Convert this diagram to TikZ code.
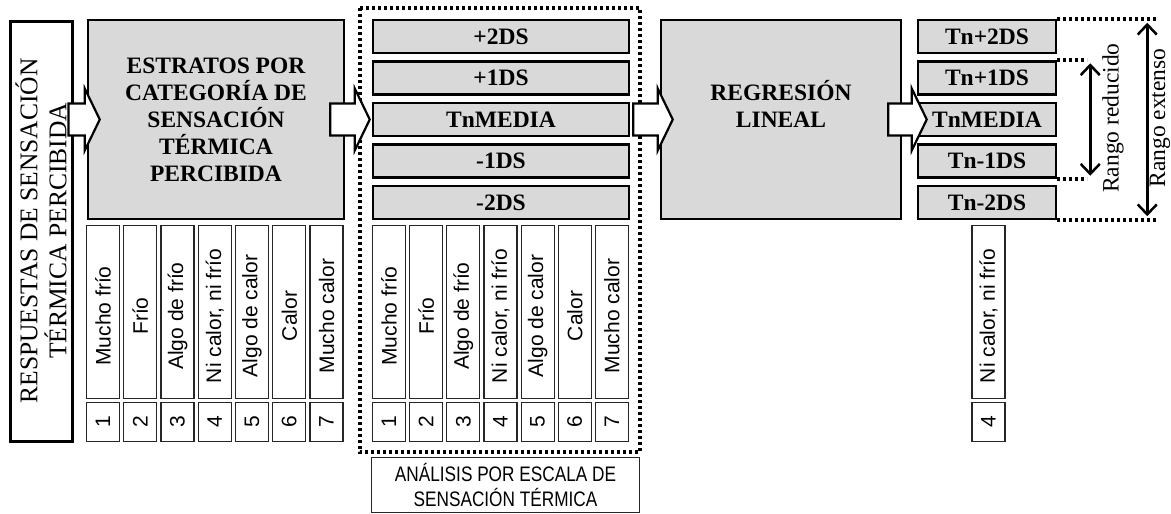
\documentclass[tikz,border=0pt]{standalone}
\usepackage{fontspec}
\setmainfont{Liberation Serif}
\setsansfont{Liberation Sans}
\newfontfamily\narrowsf[FakeStretch=0.82]{Liberation Sans}
\usepackage{xcolor}
\usepackage{tikz}
\usetikzlibrary{arrows.meta, positioning, calc}

\definecolor{boxgray}{RGB}{217,217,217}

% wide hollow arrow from a tail point to a tip point (same height)
\newcommand{\fatarrow}[2]{%
  \draw[fatarr] ($(#1)+(0,-16)$) -- ($(#2)+(-15,-16)$) -- ($(#2)+(-15,-31)$) -- (#2)
    -- ($(#2)+(-15,31)$) -- ($(#2)+(-15,16)$) -- ($(#1)+(0,16)$) -- cycle;}

\begin{document}
\begin{tikzpicture}[
    x=1pt, y=-1pt,
    >={Straight Barb[length=10pt,width=19pt]},
    mainbox/.style={draw, line width=2.5pt, fill=boxgray, align=center,
        font=\bfseries\fontsize{23.5}{27}\selectfont},
    respbox/.style={draw, line width=3pt, fill=white, rotate=90, align=center,
        minimum width=420pt, minimum height=62pt, font=\fontsize{25.5}{29}\selectfont},
    dsbox/.style={draw, line width=2.5pt, fill=boxgray, minimum height=33pt,
        font=\bfseries\fontsize{23.5}{27}\selectfont},
    catbox/.style={draw=black!85, line width=1.2pt, rotate=90, inner sep=1pt,
        minimum width=173pt, minimum height=33pt, font=\sffamily\fontsize{21}{24}\selectfont},
    numbox/.style={catbox, minimum width=39pt},
    notebox/.style={draw=black!85, line width=1.2pt, align=center, minimum width=268pt,
        minimum height=55pt, font=\narrowsf\fontsize{21}{25}\selectfont},
    fatarr/.style={draw, fill=white, line width=2.2pt},
    dotline/.style={line width=3.6pt, dash pattern=on 3pt off 3pt},
    rango/.style={rotate=90, font=\fontsize{23.5}{27}\selectfont}
]
\useasboundingbox (0,0) rectangle (1171,514);

% left block
\node[respbox] (resp) at (41,231) {RESPUESTAS DE SENSACIÓN\\TÉRMICA PERCIBIDA};

% strata
\node[mainbox, minimum width=256pt, minimum height=199pt] (estr) at (216,119.5)
    {ESTRATOS POR\\CATEGORÍA DE\\SENSACIÓN\\TÉRMICA\\PERCIBIDA};
\foreach \lbl [count=\i] in {Mucho frío, Frío, Algo de frío, {Ni calor, ni frío},
    Algo de calor, Calor, Mucho calor} {
  \node[catbox, execute at end node={\hspace{8pt}}] (catA\i) at ({103+37.25*(\i-1)},312) {\lbl};
  \node[numbox] (numA\i) at ({103+37.25*(\i-1)},422) {\i};
}

% scale analysis
\foreach \lbl [count=\i] in {+2DS, +1DS, TnMEDIA, -1DS, -2DS}
  \node[dsbox, minimum width=256pt] (ds\i) at (501,{36.5+41.5*(\i-1)}) {\lbl};
\foreach \lbl [count=\i] in {Mucho frío, Frío, Algo de frío, {Ni calor, ni frío},
    Algo de calor, Calor, Mucho calor} {
  \node[catbox, execute at end node={\hspace{8pt}}] (catB\i) at ({389+37.15*(\i-1)},312) {\lbl};
  \node[numbox] (numB\i) at ({389+37.15*(\i-1)},422) {\i};
}
\draw[dotline] ($(ds1.north west)+(-12,-11)$) rectangle ($(numB7.west -| ds1.east)+(10,10)$);
\node[notebox] (note) at (505.5,485) {ANÁLISIS POR ESCALA DE\\SENSACIÓN TÉRMICA};

% regression
\node[mainbox, minimum width=240pt, minimum height=199pt] (regr) at (781,119.5)
    {REGRESIÓN\\LINEAL\\[4pt]};

% results
\foreach \lbl [count=\i] in {Tn+2DS, Tn+1DS, TnMEDIA, Tn-1DS, Tn-2DS}
  \node[dsbox, minimum width=138pt] (tn\i) at (987,{36.5+41.5*(\i-1)}) {\lbl};
\node[catbox, execute at end node={\hspace{8pt}}] (catC) at (988.5,312) {Ni calor, ni frío};
\node[numbox] (numC) at (988.5,422) {4};

% hollow arrows
\coordinate (a1tail) at ([xshift=-5pt]resp.south |- estr.west);
\coordinate (a1tip) at ([xshift=13pt]estr.west);
\coordinate (a2tail) at ([xshift=-15pt]estr.east);
\coordinate (a2tip) at ([xshift=-2pt]estr.east -| ds3.west);
\coordinate (a3tail) at ([xshift=3pt]ds3.east);
\coordinate (a3tip) at ([xshift=13pt]regr.west);
\coordinate (a4tail) at ([xshift=-14pt]regr.east);
\coordinate (a4tip) at ([xshift=10pt]tn3.west);
\fatarrow{a1tail}{a1tip}
\fatarrow{a2tail}{a2tip}
\fatarrow{a3tail}{a3tip}
\fatarrow{a4tail}{a4tip}

% ranges
\coordinate (exttop) at ($(tn1.north east)+(101,0)$);
\coordinate (extbot) at ($(tn5.south east)+(101,0)$);
\coordinate (redtop) at ($(tn2.north east)+(30,0)$);
\coordinate (redbot) at ($(tn4.south east)+(30,0)$);
\draw[dotline] (tn1.north east) -- (exttop);
\draw[dotline] (tn5.south east) -- (extbot);
\draw[dotline] (tn2.north east) -- (redtop);
\draw[dotline] (tn4.south east) -- (redbot);
\draw[<->, line width=2.5pt] ($(tn2.north east)+(33,3)$) -- ($(tn4.south east)+(33,-3)$);
\draw[<->, line width=2.5pt] ($(tn1.north east)+(90,4)$) -- ($(tn5.south east)+(90,-4)$);
\node[rango] (rred) at (1113,118) {Rango reducido};
\node[rango] (rext) at (1160,118) {Rango extenso};

\end{tikzpicture}
\end{document}
